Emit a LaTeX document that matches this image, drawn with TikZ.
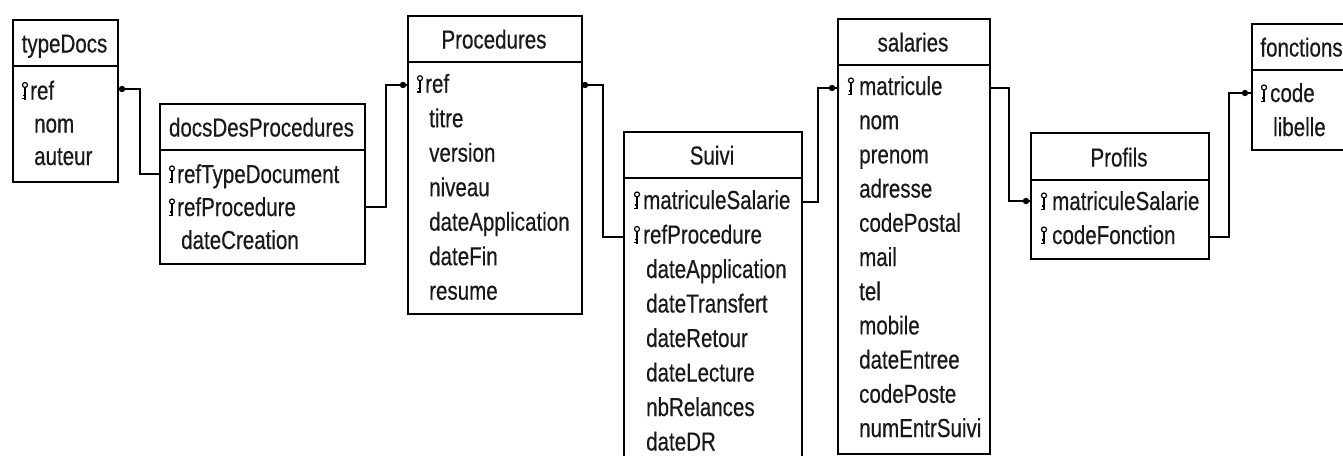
\documentclass[tikz,border=0pt]{standalone}
\usepackage{fontspec}
\usetikzlibrary{calc}
\setmainfont{Liberation Sans}[FakeStretch=0.79,FakeBold=0.4]
\newcommand\erfont{\fontsize{26}{30}\selectfont}
\tikzset{
  x=1pt, y=-1pt,
  tbl/.style={draw=black, line width=1.6pt, fill=white, inner sep=0pt, anchor=north west},
  hdr/.style={line width=1.6pt},
  fld/.style={inner sep=0pt, anchor=base west, font=\erfont, text=black!90},
  ttl/.style={inner sep=0pt, anchor=base, font=\erfont, text=black!90},
  link/.style={line width=1.3pt},
  pkey/.pic={
    \draw[line width=1.2pt] (0,-14.5) circle (2.5pt);
    \draw[line width=1.7pt] (0,-12) -- (0,0);
    \draw[line width=1.3pt] (0,-0.8) -- (-2.6,-0.8) (0,-4) -- (-2.2,-4);
  }
}
% name, left, top, right, header, bottom, title
\newcommand\ertable[7]{%
  \node[tbl, minimum width={#4pt-#2pt}, minimum height={#6pt-#3pt}] (#1) at (#2,#3) {};
  \draw[hdr] (#2,#5) -- (#4,#5);
  \node[ttl] (#1-title) at ({(#2+#4)/2},{#5-13.5}) {#7};
}
% name, keyx, textx, baseline, text
\newcommand\pkfield[5]{%
  \pic at (#2,#4) {pkey};
  \node[fld] (#1) at (#3,#4) {#5};
}
\newcommand\erfield[4]{\node[fld] (#1) at (#2,#3) {#4};}
\begin{document}
\begin{tikzpicture}
\useasboundingbox (0,0) rectangle (1343,455);
\fill[white] (0,0) rectangle (1343,455);
\clip (0,0) rectangle (1343,455);

% typeDocs
\ertable{typeDocs}{12}{19}{117}{66}{181}{typeDocs}
\pkfield{td-ref}{25}{30}{99.5}{ref}
\erfield{td-nom}{34}{132.5}{nom}
\erfield{td-aut}{34}{165}{auteur}

% docsDesProcedures
\ertable{docs}{159}{103}{364}{150}{263}{docsDesProcedures}
\pkfield{dp-rtd}{172}{177}{183}{refTypeDocument}
\pkfield{dp-rp}{172}{177}{216}{refProcedure}
\erfield{dp-dc}{181}{249}{dateCreation}

% Procedures
\ertable{proc}{407}{15}{581}{62}{313}{Procedures}
\pkfield{pr-ref}{420}{425}{92.7}{ref}
\erfield{pr-titre}{429}{127.2}{titre}
\erfield{pr-version}{429}{161.7}{version}
\erfield{pr-niveau}{429}{196.2}{niveau}
\erfield{pr-da}{429}{230.7}{dateApplication}
\erfield{pr-df}{429}{265.2}{dateFin}
\erfield{pr-res}{429}{299.7}{resume}

% Suivi
\ertable{suivi}{623}{131}{801}{178}{490}{Suivi}
\pkfield{su-ms}{637}{643}{209}{matriculeSalarie}
\pkfield{su-rp}{637}{643}{243.5}{refProcedure}
\erfield{su-da}{646}{278}{dateApplication}
\erfield{su-dt}{646}{312.5}{dateTransfert}
\erfield{su-dr}{646}{347}{dateRetour}
\erfield{su-dl}{646}{381.5}{dateLecture}
\erfield{su-nb}{646}{416}{nbRelances}
\erfield{su-ddr}{646}{450.5}{dateDR}

% salaries
\ertable{sal}{837}{18}{989}{65}{453}{salaries}
\pkfield{sa-mat}{851}{859}{95}{matricule}
\erfield{sa-nom}{859}{129.2}{nom}
\erfield{sa-prenom}{859}{163.4}{prenom}
\erfield{sa-adr}{859}{197.6}{adresse}
\erfield{sa-cp}{859}{231.8}{codePostal}
\erfield{sa-mail}{859}{266}{mail}
\erfield{sa-tel}{859}{300.2}{tel}
\erfield{sa-mob}{859}{334.4}{mobile}
\erfield{sa-de}{859}{368.6}{dateEntree}
\erfield{sa-cpo}{859}{402.8}{codePoste}
\erfield{sa-nes}{859}{437}{numEntrSuivi}

% Profils
\ertable{prof}{1030}{132}{1208}{180}{258}{Profils}
\pkfield{pf-ms}{1044}{1052}{210}{matriculeSalarie}
\pkfield{pf-cf}{1044}{1052}{244}{codeFonction}

% fonctions
\ertable{fonc}{1251}{23}{1352}{70}{149}{fonctions}
\pkfield{fo-code}{1264}{1270}{102}{code}
\erfield{fo-lib}{1273}{136}{libelle}

% attachment points
\coordinate (a1s) at (117,89);   \coordinate (a1t) at (159,174);
\coordinate (a2s) at (364,207);  \coordinate (a2t) at (407,85);
\coordinate (a3s) at (581,85);   \coordinate (a3t) at (623,237);
\coordinate (a4s) at (801,202);  \coordinate (a4t) at (837,88);
\coordinate (a5s) at (989,88);   \coordinate (a5t) at (1030,201);
\coordinate (a6s) at (1208,237); \coordinate (a6t) at (1251,93);

\draw[link] (a1s) -- ++(23,0) |- (a1t);
\draw[link] (a2s) -- ++(22,0) |- (a2t);
\draw[link] (a3s) -- ++(22,0) |- (a3t);
\draw[link] (a4s) -- ++(17,0) |- (a4t);
\draw[link] (a5s) -- ++(20,0) |- (a5t);
\draw[link] (a6s) -- ++(21,0) |- (a6t);

\fill ($(a1s)+(5,0)$) circle (3.2pt);
\fill ($(a2t)+(-4,0)$) circle (3.2pt);
\fill ($(a3s)+(4,0)$) circle (3.2pt);
\fill ($(a4t)+(-5,0)$) circle (3.2pt);
\fill ($(a5t)+(-4,0)$) circle (3.2pt);
\fill ($(a6t)+(-6,0)$) circle (3.2pt);
\end{tikzpicture}
\end{document}
